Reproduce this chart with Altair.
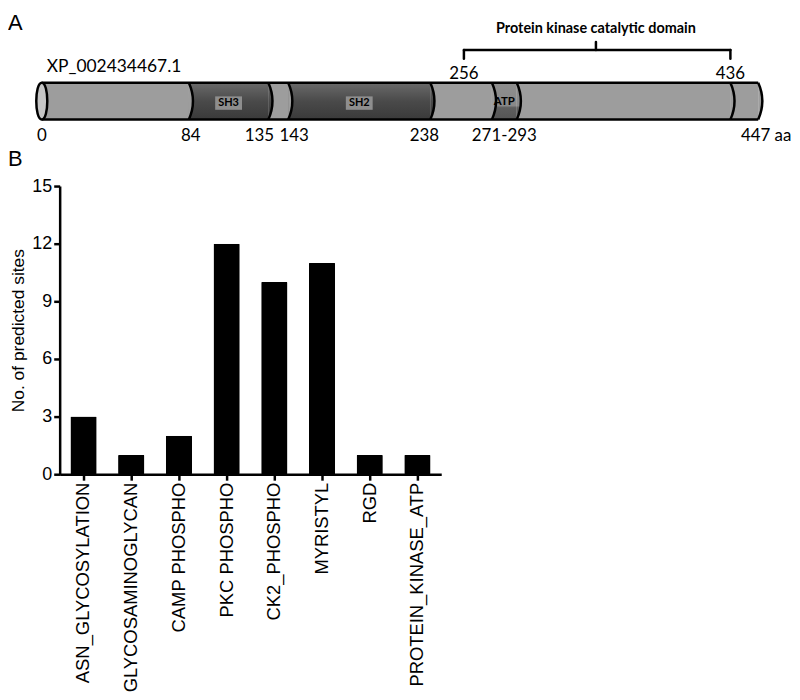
import altair as alt
import pandas as pd

# ---------------- Panel A data ----------------
protein_id = "XP_002434467.1"
seg_start = [0, 84, 135, 143, 238, 271, 293, 436]
seg_end = [84, 135, 143, 238, 271, 293, 436, 447]
seg_kind = ["plain", "domain", "plain", "domain", "plain", "atp", "plain", "plain"]
domain_names = ["SH3", "SH2"]
domain_start = [84, 143]
domain_end = [135, 238]
atp_name = "ATP"
atp_start, atp_end = 271, 293
below_text = ["0", "84", "135", "143", "238", "271-293", "447 aa"]
below_pos = [0, 84, 135, 143, 238, (271 + 293) / 2, 447]
above_text = ["256", "436"]
above_pos = [256, 436]
kinase_start, kinase_end = 256, 436
kinase_title = "Protein kinase catalytic domain"

# ---------------- Panel B data ----------------
site_types = ["ASN_GLYCOSYLATION", "GLYCOSAMINOGLYCAN", "CAMP PHOSPHO", "PKC PHOSPHO",
              "CK2_PHOSPHO", "MYRISTYL", "RGD", "PROTEIN_KINASE_ATP"]
site_counts = [3, 1, 2, 12, 10, 11, 1, 1]
y_ticks = [0, 3, 6, 9, 12, 15]

# ---------------- Panel A (schematic) ----------------
TOP, BOT = 73, 110  # bar body in panel pixels
MID = (TOP + BOT) / 2
H = BOT - TOP
LEFT = -52  # panel letters sit left of the shared plot origin
xs = alt.Scale(domain=[0, 84, 135, 143, 238, 271, 293, 436, 447],
               range=[-18, 130, 210, 230, 373, 435, 460, 675, 703], nice=False, zero=False)

seg_df = pd.DataFrame({"start": seg_start, "end": seg_end, "kind": seg_kind})

plain_fill = "#9d9d9d"
dark_fill = alt.Gradient(gradient="linear", x1=0, x2=0, y1=0, y2=1,
                         stops=[alt.GradientStop(color="#6a6a6a", offset=0),
                                alt.GradientStop(color="#4a4a4a", offset=0.5),
                                alt.GradientStop(color="#3a3a3a", offset=1)])
atp_fill = alt.Gradient(gradient="linear", x1=0, x2=0, y1=0, y2=1,
                        stops=[alt.GradientStop(color="#8e8e8e", offset=0),
                               alt.GradientStop(color="#888888", offset=0.62),
                               alt.GradientStop(color="#5e5e5e", offset=0.68),
                               alt.GradientStop(color="#555555", offset=1)])
fills = {"plain": plain_fill, "domain": dark_fill, "atp": atp_fill}

base = alt.Chart(seg_df)
layers = []
for kind, f in fills.items():
    layers.append(
        base.transform_filter(f"datum.kind == '{kind}'").mark_rect(fill=f).encode(
            x=alt.X("start:Q", scale=xs, axis=None), x2="end:Q",
            y=alt.value(TOP), y2=alt.value(BOT)))

outline_df = pd.DataFrame({"a": [seg_start[0]], "b": [seg_end[-1]]})
for yy in (TOP, BOT):
    layers.append(alt.Chart(outline_df).mark_rule(color="black", strokeWidth=2.5).encode(
        x=alt.X("a:Q", scale=xs, axis=None), x2="b:Q", y=alt.value(yy)))

bulge = "M0,-1 Q0.45,0 0,1"
for kind, f in fills.items():
    layers.append(
        base.transform_filter(f"datum.kind == '{kind}'").mark_point(
            shape=bulge, size=H * H, filled=True, fill=f, stroke="black",
            strokeWidth=2.5, opacity=1).encode(
            x=alt.X("end:Q", scale=xs, axis=None), y=alt.value(MID)))

ellipse = "M0,-1 C0.4,-1 0.4,1 0,1 C-0.4,1 -0.4,-1 0,-1 Z"
layers.append(alt.Chart(outline_df).mark_point(
    shape=ellipse, size=H * H, filled=True, fill="#c6c6c6", stroke="black",
    strokeWidth=2.5, opacity=1).encode(x=alt.X("a:Q", scale=xs, axis=None), y=alt.value(MID)))

# domain label boxes and names
dom_df = pd.DataFrame({"name": domain_names, "start": domain_start, "end": domain_end})
box = "M-1,-0.5 L1,-0.5 L1,0.5 L-1,0.5 Z"
layers.append(alt.Chart(dom_df).transform_calculate(mid="(datum.start + datum.end) / 2").mark_point(
    shape=box, size=27 * 27, filled=True, fill="#8e8e8e", strokeWidth=0, opacity=1).encode(
    x=alt.X("mid:Q", scale=xs, axis=None), y=alt.value(93.5)))
layers.append(alt.Chart(dom_df).transform_calculate(mid="(datum.start + datum.end) / 2").mark_text(
    font="Lato", fontWeight="bold", fontSize=11, color="black", baseline="middle").encode(
    x=alt.X("mid:Q", scale=xs, axis=None), y=alt.value(93.5), text="name:N"))
atp_df = pd.DataFrame({"name": [atp_name], "start": [atp_start], "end": [atp_end]})
layers.append(alt.Chart(atp_df).transform_calculate(mid="(datum.start + datum.end) / 2").mark_text(
    font="Lato", fontWeight="bold", fontSize=11.5, color="black", baseline="middle").encode(
    x=alt.X("mid:Q", scale=xs, axis=None), y=alt.value(92), text="name:N"))

# position labels below
below_df = pd.DataFrame({"t": below_text, "p": below_pos})
nudges = {"84": 2, "135": -9, "143": 6, "238": -6, "447 aa": 8}
for lab in below_text:
    layers.append(alt.Chart(below_df).transform_filter(f"datum.t == '{lab}'").mark_text(
        font="Lato", fontSize=17, color="black", baseline="alphabetic", dx=nudges.get(lab, 0)).encode(
        x=alt.X("p:Q", scale=xs, axis=None), y=alt.value(132), text="t:N"))

above_df = pd.DataFrame({"t": above_text, "p": above_pos})
layers.append(alt.Chart(above_df).mark_text(
    font="Lato", fontSize=17, color="black", baseline="alphabetic").encode(
    x=alt.X("p:Q", scale=xs, axis=None), y=alt.value(69), text="t:N"))

# bracket
br_df = pd.DataFrame({"s": [kinase_start], "e": [kinase_end], "title": [kinase_title]})
brc = alt.Chart(br_df).transform_calculate(m="(datum.s + datum.e) / 2")
rule_kw = dict(color="black", strokeWidth=2.5, strokeCap="round")
layers.append(brc.mark_rule(**rule_kw).encode(x=alt.X("s:Q", scale=xs, axis=None), x2="e:Q", y=alt.value(40)))
layers.append(brc.mark_rule(**rule_kw).encode(x=alt.X("s:Q", scale=xs, axis=None), y=alt.value(40), y2=alt.value(49)))
layers.append(brc.mark_rule(**rule_kw).encode(x=alt.X("e:Q", scale=xs, axis=None), y=alt.value(40), y2=alt.value(49)))
layers.append(brc.mark_rule(**rule_kw).encode(x=alt.X("m:Q", scale=xs, axis=None), y=alt.value(32), y2=alt.value(40)))
layers.append(brc.mark_text(font="Lato", fontWeight="bold", fontSize=14.5, color="black",
                            baseline="alphabetic").encode(
    x=alt.X("m:Q", scale=xs, axis=None), y=alt.value(23), text="title:N"))

# protein id and panel letters
layers.append(alt.Chart(pd.DataFrame({"t": [protein_id]})).mark_text(
    font="Lato", fontSize=17.5, color="black", align="left", baseline="alphabetic").encode(
    x=alt.value(-13), y=alt.value(62), text="t:N"))
for letter, yy in (("A", 20), ("B", 157)):
    layers.append(alt.Chart(pd.DataFrame({"t": [letter]})).mark_text(
        font="Liberation Sans", fontSize=22, color="black", align="left", baseline="alphabetic").encode(
        x=alt.value(LEFT), y=alt.value(yy), text="t:N"))

panel_a = alt.layer(*layers).properties(width=732, height=160)

# ---------------- Panel B (bar chart) ----------------
site_df = pd.DataFrame({"site": site_types, "count": site_counts})
panel_b = alt.Chart(site_df).mark_bar(color="black", cornerRadius=1).encode(
    x=alt.X("site:N", sort=site_types,
            scale=alt.Scale(paddingInner=0.45, paddingOuter=0.225),
            axis=alt.Axis(title=None, labelAngle=270, labelFont="Liberation Sans", labelFontSize=18.5,
                          labelColor="black", labelPadding=2, labelLimit=400, domainColor="black",
                          domainWidth=2.5, tickColor="black", tickWidth=2.5, tickSize=6)),
    y=alt.Y("count:Q", scale=alt.Scale(domain=[0, 15], nice=False),
            axis=alt.Axis(values=y_ticks, title="No. of predicted sites", titleFont="Liberation Sans",
                          titleFontSize=17.5, titleFontWeight="normal", titleColor="black",
                          titlePadding=4, labelFont="Liberation Sans", labelFontSize=18,
                          labelColor="black", labelPadding=2, grid=False, domainColor="black",
                          domainWidth=2.5, tickColor="black", tickWidth=2.5, tickSize=6)),
).properties(width=384, height=290)

chart = alt.vconcat(panel_a, panel_b, spacing=17, bounds="flush").properties(
    padding={"left": 0, "top": 0, "right": 0, "bottom": 0}
).configure_view(stroke=None)

chart.save("out.html", embed_options={"renderer": "svg", "actions": False})
